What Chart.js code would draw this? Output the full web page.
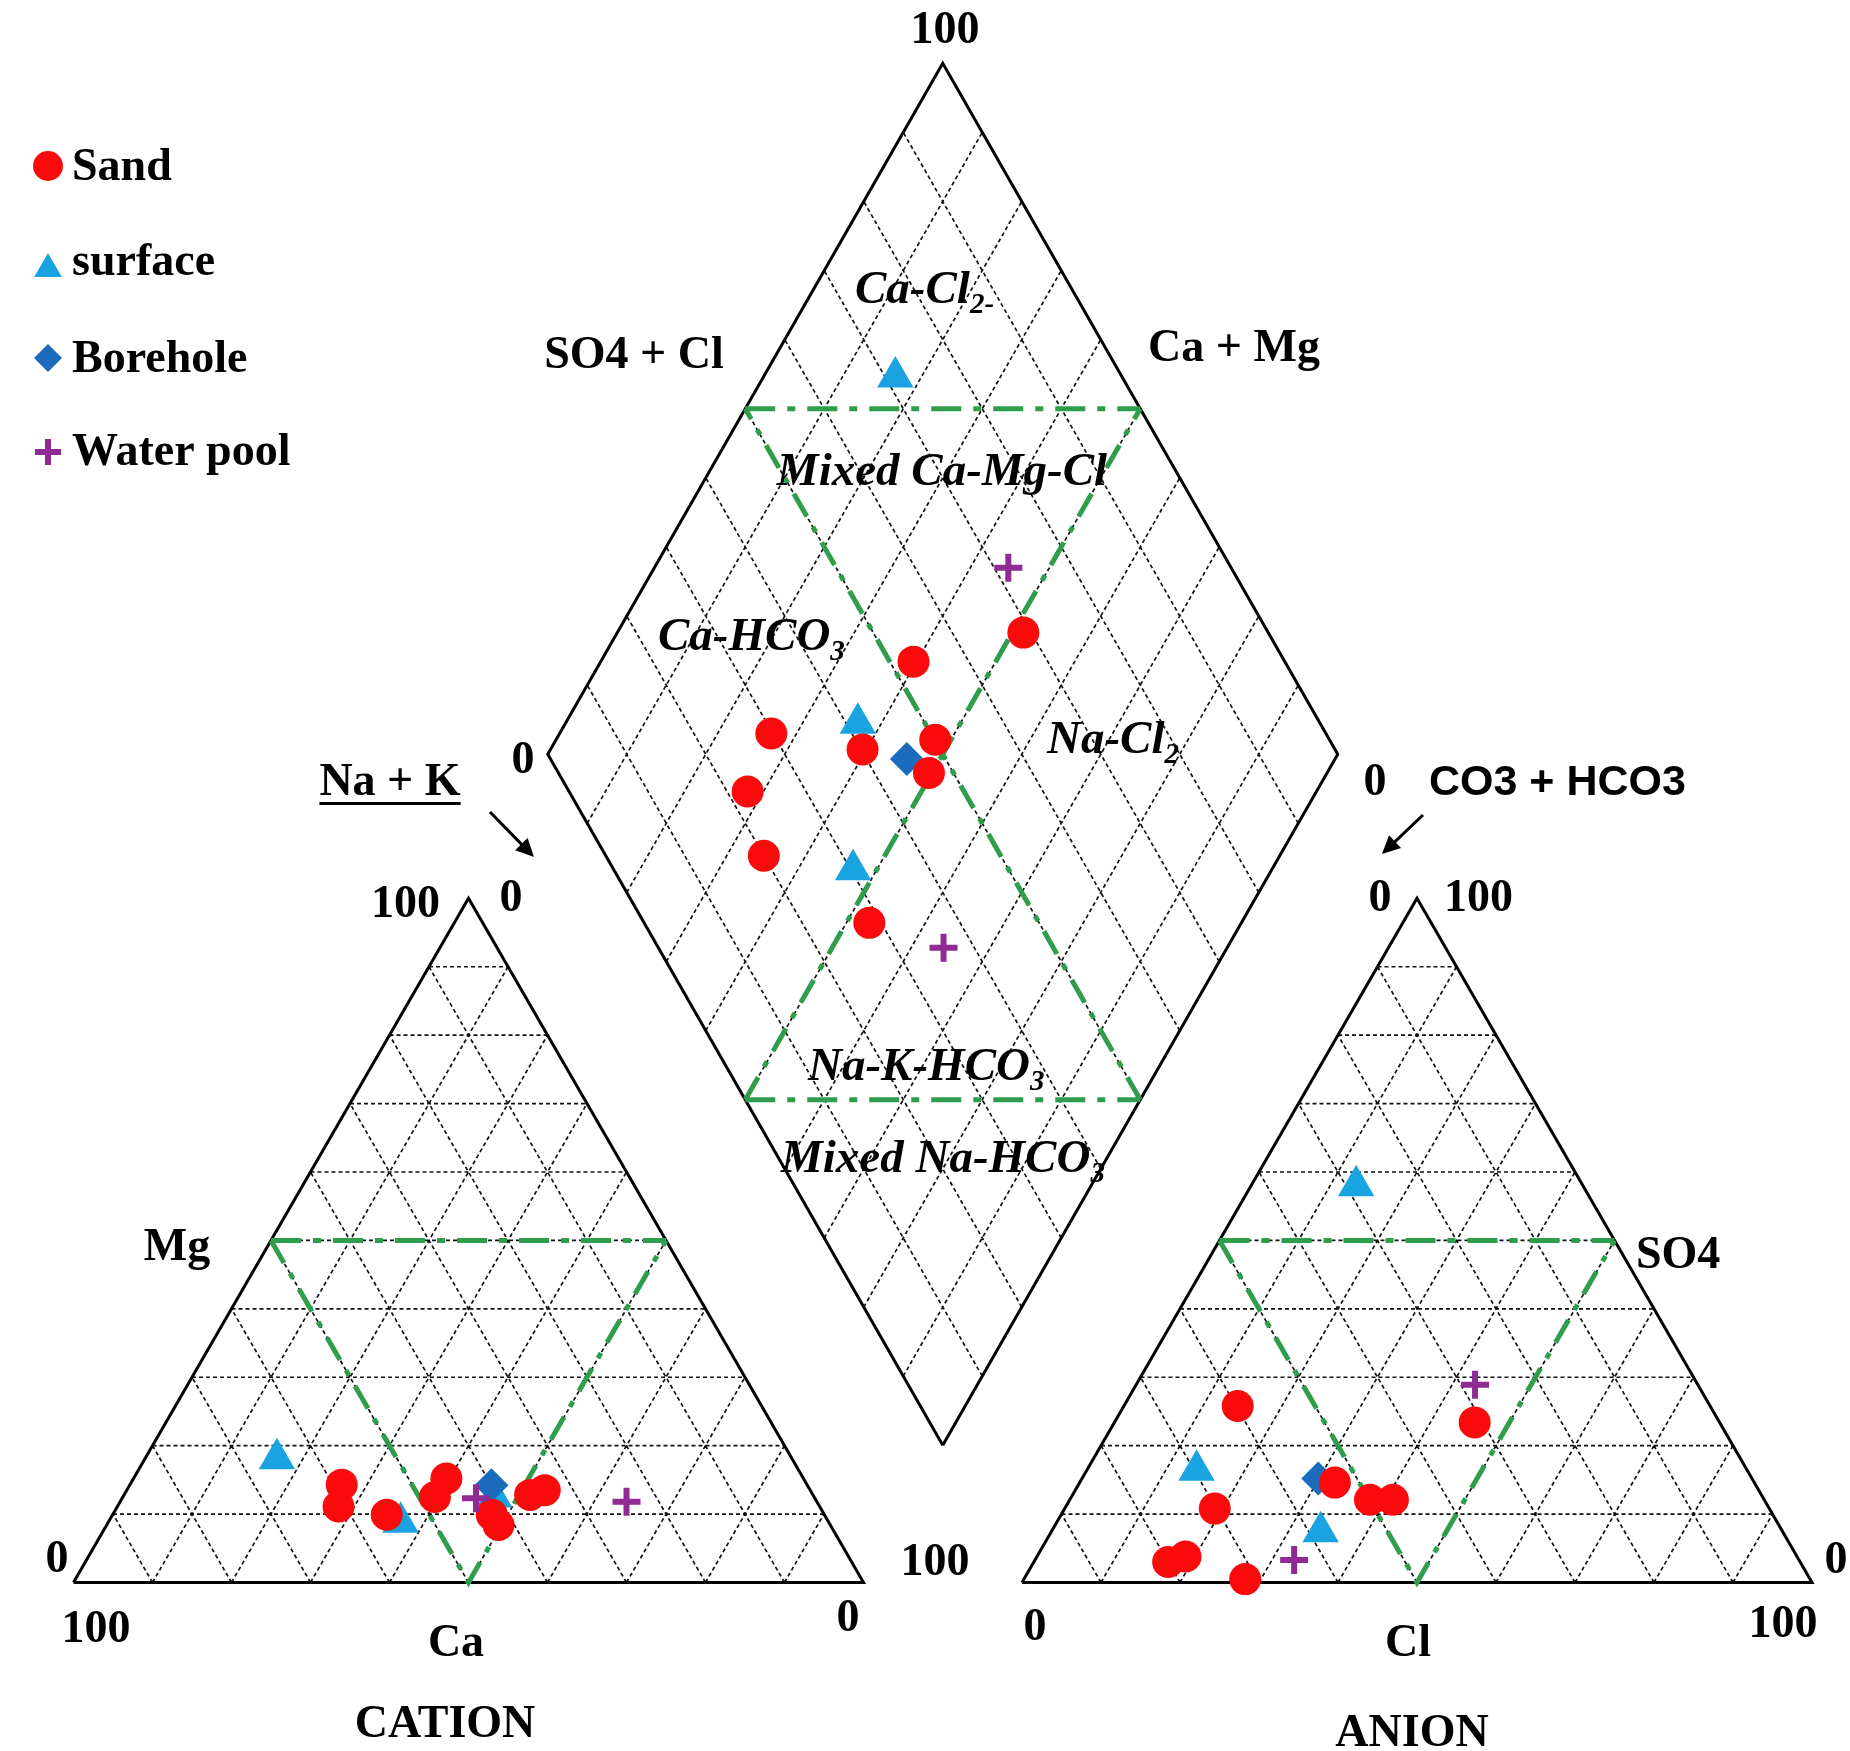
<!DOCTYPE html>
<html>
<head>
<meta charset="utf-8">
<script src="https://cdn.jsdelivr.net/npm/chart.js@4.4.0/dist/chart.umd.min.js"></script>
<style>
  html, body { margin: 0; padding: 0; background: #fff; }
  #wrap { width: 1850px; height: 1751px; position: relative; }
</style>
</head>
<body>
<div id="wrap"><canvas id="piper"></canvas></div>
<script>
// groups and sample values (%)
var groupNames = ['Sand', 'surface', 'Borehole', 'Water pool'];
var sampleGroup = [0, 0, 0, 0, 0, 0, 0, 0, 0, 1, 1, 1, 2, 3, 3];
// cations
var ca  = [58.9, 60.9, 55.4, 45.2, 48.0, 42.1, 42.0, 35.8, 33.6, 65.2, 54.2, 40.5, 40.0, 42.9, 24.1];
var mg  = [14.3, 11.1,  9.9, 15.2, 12.5,  9.9,  8.4, 12.8, 13.5, 18.1,  8.8, 12.5, 14.2, 12.3, 11.8];
var naK = [26.8, 28.0, 34.7, 39.6, 39.5, 48.0, 49.6, 51.4, 52.9, 16.7, 37.0, 47.0, 45.8, 44.8, 64.1];
// anions
var hco3 = [70.2, 77.4, 80.0, 47.0, 59.8, 49.9, 53.1, 31.0, 71.5, 28.7, 58.5, 69.7, 54.9, 28.2, 63.9];
var so4  = [10.8,  3.8,  3.0, 12.1, 25.8, 12.1, 14.6, 23.4,  0.5, 58.0,  7.4, 16.4, 15.2, 28.9,  3.3];
var cl   = [19.0, 18.8, 17.0, 40.9, 14.4, 38.0, 32.3, 45.6, 28.0, 13.3, 34.1, 13.9, 29.9, 42.9, 32.8];
var gridSteps = [10, 20, 30, 40, 50, 60, 70, 80, 90];

// geometry of the three plots (canvas units)
var SQ3 = Math.sqrt(3);
var side = 790, triH = side * SQ3 / 2;
var catOrigin = [73.5, 1582.5], anOrigin = [1022, 1582.5];
var gap = anOrigin[0] - catOrigin[0] - side;
var diaBottom = [catOrigin[0] + side + gap / 2, catOrigin[1] - gap / 2 * SQ3];
var diaStretch = 1.01;

function catPt(c, m, n) {
    var t = c + m + n; m /= t; n /= t;
    return { x: catOrigin[0] + (n + m / 2) * side, y: catOrigin[1] - m * triH };
}
function anPt(h, s, c) {
    var t = h + s + c; s /= t; c /= t;
    return { x: anOrigin[0] + (c + s / 2) * side, y: anOrigin[1] - s * triH };
}
// a = Ca+Mg fraction, b = SO4+Cl fraction
function diaPt(a, b) {
    return { x: diaBottom[0] + (b - a) * side / 2, y: diaBottom[1] - (a + b) * triH * diaStretch };
}
var GAP = { x: NaN, y: null };
function segs(list) {
    var out = [];
    list.forEach(function (s) { s.forEach(function (p) { out.push(p); }); out.push(GAP); });
    return out;
}

// grid
var gridSegs = [];
gridSteps.forEach(function (k) {
    var p = k / 100;
    gridSegs.push([catPt(1 - p, p, 0), catPt(0, p, 1 - p)]);
    gridSegs.push([catPt(1 - p, 0, p), catPt(0, 1 - p, p)]);
    gridSegs.push([catPt(p, 0, 1 - p), catPt(p, 1 - p, 0)]);
    gridSegs.push([anPt(1 - p, p, 0), anPt(0, p, 1 - p)]);
    gridSegs.push([anPt(1 - p, 0, p), anPt(0, 1 - p, p)]);
    gridSegs.push([anPt(p, 0, 1 - p), anPt(p, 1 - p, 0)]);
    gridSegs.push([diaPt(p, 0), diaPt(p, 1)]);
    gridSegs.push([diaPt(0, p), diaPt(1, p)]);
});
var outlineSegs = [
    [catPt(1, 0, 0), catPt(0, 0, 1), catPt(0, 1, 0), catPt(1, 0, 0)],
    [anPt(1, 0, 0), anPt(0, 0, 1), anPt(0, 1, 0), anPt(1, 0, 0)],
    [diaPt(0, 0), diaPt(0, 1), diaPt(1, 1), diaPt(1, 0), diaPt(0, 0)]
];
var greenFlat = [
    [catPt(.5, .5, 0), catPt(0, .5, .5)],
    [anPt(.5, .5, 0), anPt(0, .5, .5)],
    [diaPt(1, .5), diaPt(.5, 1)],
    [diaPt(.5, 0), diaPt(0, .5)]
];
var greenSlant = [
    [catPt(.5, .5, 0), catPt(.5, 0, .5), catPt(0, .5, .5)],
    [anPt(.5, .5, 0), anPt(.5, 0, .5), anPt(0, .5, .5)],
    [diaPt(.5, 0), diaPt(.5, 1)],
    [diaPt(0, .5), diaPt(1, .5)]
];

// markers: every sample in cation, anion and diamond fields
function groupPoints(g) {
    var pts = [];
    sampleGroup.forEach(function (grp, i) {
        if (grp !== g) return;
        pts.push(catPt(ca[i], mg[i], naK[i]));
        pts.push(anPt(hco3[i], so4[i], cl[i]));
        pts.push(diaPt((ca[i] + mg[i]) / 100, (so4[i] + cl[i]) / 100));
    });
    return pts;
}
var styles = [
    { pointStyle: 'circle', radius: 16, color: '#fa0a0a', order: 1, lr: 15 },
    { pointStyle: 'triangle', radius: 21, color: '#19a3e0', order: 3, lr: 16 },
    { pointStyle: 'rectRot', radius: 17, color: '#1c6cbd', order: 2, lr: 14 },
    { pointStyle: 'cross', radius: 14, color: '#8f2b92', order: 0, lr: 13 }
];

var lineSet = function (data, color, width, dash, order) {
    return {
        type: 'line', data: data, borderColor: color, borderWidth: width, borderDash: dash,
        pointRadius: 0, fill: false, tension: 0, spanGaps: false, order: order, clip: false
    };
};

var datasets = [];
styles.forEach(function (st, g) {
    datasets.push({
        type: 'scatter', label: groupNames[g], data: groupPoints(g),
        pointStyle: st.pointStyle, pointRadius: st.radius, pointHoverRadius: st.radius,
        backgroundColor: st.color, borderColor: st.color,
        pointBorderWidth: st.pointStyle === 'cross' ? 6 : 0,
        order: st.order, clip: false
    });
});
datasets.push(lineSet(segs(greenFlat), '#2f9e4c', 5, [30, 12, 8, 12], 5));
datasets.push(lineSet(segs(greenSlant), '#2f9e4c', 5, [26, 12, 6, 12], 5));
datasets.push(lineSet(segs(outlineSegs), '#000', 3, [], 6));
datasets.push(lineSet(segs(gridSegs), '#111', 1.7, [4, 3], 7));

// text layout
var SERIF = 'bold 46px "Liberation Serif", "DejaVu Serif", serif';
var ITAL = 'italic bold 47px "Liberation Serif", "DejaVu Serif", serif';
var SANS = 'bold 43px "Liberation Sans", Arial, sans-serif';
var texts = [
    { p: [['100']], x: 945, y: 43, a: 'center' },
    { p: [['SO4 + Cl']], x: 634, y: 368, a: 'center' },
    { p: [['Ca + Mg']], x: 1234, y: 361, a: 'center' },
    { p: [['0']], x: 523, y: 773, a: 'center' },
    { p: [['0']], x: 1375, y: 795, a: 'center' },
    { p: [['Na + K']], x: 390, y: 795, a: 'center', u: true },
    { p: [['CO3 + HCO3']], x: 1429, y: 795, a: 'left', f: SANS },
    { p: [['100']], x: 440, y: 917, a: 'right' },
    { p: [['0']], x: 511, y: 911, a: 'center' },
    { p: [['Mg']], x: 177, y: 1260, a: 'center' },
    { p: [['0']], x: 57, y: 1572, a: 'center' },
    { p: [['100']], x: 96, y: 1642, a: 'center' },
    { p: [['Ca']], x: 456, y: 1656, a: 'center' },
    { p: [['0']], x: 848, y: 1631, a: 'center' },
    { p: [['CATION']], x: 445, y: 1737, a: 'center' },
    { p: [['100']], x: 935, y: 1575, a: 'center' },
    { p: [['0']], x: 1380, y: 911, a: 'center' },
    { p: [['100']], x: 1444, y: 911, a: 'left' },
    { p: [['SO4']], x: 1636, y: 1268, a: 'left' },
    { p: [['0']], x: 1836, y: 1573, a: 'center' },
    { p: [['0']], x: 1035, y: 1640, a: 'center' },
    { p: [['Cl']], x: 1408, y: 1656, a: 'center' },
    { p: [['100']], x: 1783, y: 1637, a: 'center' },
    { p: [['ANION']], x: 1412, y: 1746, a: 'center' },
    { p: [['Ca-Cl'], ['2-', 1]], x: 855, y: 303, a: 'left', f: ITAL },
    { p: [['Mixed Ca-Mg-Cl']], x: 942, y: 485, a: 'center', f: ITAL },
    { p: [['Ca-HCO'], ['3', 1]], x: 658, y: 650, a: 'left', f: ITAL },
    { p: [['Na-Cl'], ['2', 1]], x: 1047, y: 753, a: 'left', f: ITAL },
    { p: [['Na-K-HCO'], ['3', 1]], x: 808, y: 1080, a: 'left', f: ITAL },
    { p: [['Mixed Na-HCO'], ['3', 1]], x: 781, y: 1172, a: 'left', f: ITAL }
];
var legendRows = [166, 269, 358, 452];
var legendText = [180, 275, 372, 465];
var arrows = [[490, 812, 534, 857], [1423, 815, 1382, 854]];

var piperText = {
    id: 'piperText',
    afterDraw: function (chart) {
        var ctx = chart.ctx, xs = chart.scales.x, ys = chart.scales.y;
        var X = function (v) { return xs.getPixelForValue(v); };
        var Y = function (v) { return ys.getPixelForValue(v); };
        ctx.save();
        ctx.fillStyle = '#000';
        ctx.textBaseline = 'alphabetic';
        texts.forEach(function (t) {
            var font = t.f || SERIF;
            var size = parseFloat(font.match(/(\d+)px/)[1]);
            var subFont = font.replace(/\d+px/, Math.round(size * 0.62) + 'px');
            var w = 0;
            t.p.forEach(function (part) { ctx.font = part[1] ? subFont : font; w += ctx.measureText(part[0]).width; });
            var x0 = X(t.x);
            if (t.a === 'center') x0 -= w / 2;
            if (t.a === 'right') x0 -= w;
            var cx = x0;
            ctx.textAlign = 'left';
            t.p.forEach(function (part) {
                ctx.font = part[1] ? subFont : font;
                ctx.fillText(part[0], cx, Y(t.y) + (part[1] ? size * 0.22 : 0));
                cx += ctx.measureText(part[0]).width;
            });
            if (t.u) {
                ctx.fillRect(x0, Y(t.y) + 7, w, 3);
            }
        });
        // arrows
        ctx.strokeStyle = '#000';
        ctx.lineWidth = 3;
        arrows.forEach(function (a) {
            var x1 = X(a[0]), y1 = Y(a[1]), x2 = X(a[2]), y2 = Y(a[3]);
            var ang = Math.atan2(y2 - y1, x2 - x1), hl = 20;
            ctx.beginPath();
            ctx.moveTo(x1, y1);
            ctx.lineTo(x2 - Math.cos(ang) * 10, y2 - Math.sin(ang) * 10);
            ctx.stroke();
            ctx.beginPath();
            ctx.moveTo(x2, y2);
            ctx.lineTo(x2 - hl * Math.cos(ang - 0.45), y2 - hl * Math.sin(ang - 0.45));
            ctx.lineTo(x2 - hl * Math.cos(ang + 0.45), y2 - hl * Math.sin(ang + 0.45));
            ctx.closePath();
            ctx.fill();
        });
        // legend
        styles.forEach(function (st, g) {
            ctx.fillStyle = st.color;
            ctx.strokeStyle = st.color;
            ctx.lineWidth = st.pointStyle === 'cross' ? 6 : 0;
            Chart.helpers.drawPoint(ctx, {
                pointStyle: st.pointStyle, radius: st.lr, rotation: 0,
                borderWidth: st.pointStyle === 'cross' ? 6 : 0
            }, X(48), Y(legendRows[g]));
            ctx.fillStyle = '#000';
            ctx.font = SERIF;
            ctx.textAlign = 'left';
            ctx.fillText(groupNames[g], X(72), Y(legendText[g]));
        });
        ctx.restore();
    }
};

var chart = new Chart(document.getElementById('piper').getContext('2d'), {
    type: 'line',
    data: { datasets: datasets },
    options: {
        responsive: true,
        maintainAspectRatio: false,
        animation: false,
        events: [],
        layout: { padding: 0, autoPadding: false },
        scales: {
            x: { type: 'linear', min: 0, max: 1850, display: false },
            y: { type: 'linear', min: 0, max: 1751, reverse: true, display: false }
        },
        plugins: { legend: { display: false }, tooltip: { enabled: false } }
    },
    plugins: [piperText]
});
</script>
</body>
</html>
